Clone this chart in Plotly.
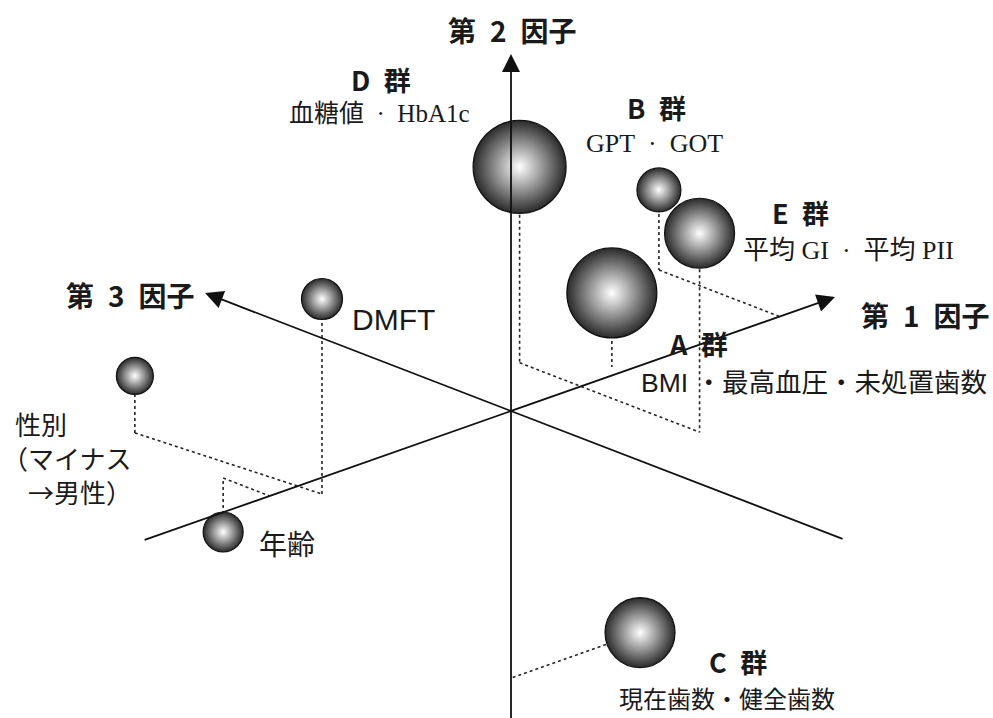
import plotly.graph_objects as go

# factor scores (第1因子, 第2因子, 第3因子)
items = ["D群", "B群", "E群", "A群", "C群", "DMFT", "性別", "年齢"]
f1 = [0.247, 0.949, 0.247, 0.397, 0.456, -0.747, -0.800, -0.853]
f2 = [0.653, 0.267, 0.663, 0.247, -0.890, 0.650, 0.190, -0.180]
f3 = [0.219, 0.431, -0.424, 0.041, 0.000, -0.080, 0.535, 0.166]

# extent of the three drawn axes (negative end, arrow end)
axis_names = ["第1因子", "第2因子", "第3因子"]
axis_lo = [-1.30, -1.03, -1.19]
axis_hi = [1.145, 1.19, 1.093]

# construction lines on the floor plane
floor_links = [("D群", "E群"), ("性別", "DMFT")]
to_axis1 = ["B群", "年齢"]
to_axis2 = ["C群"]

# oblique projection of the factor space onto the page
E1 = (0.9433, 0.3319)
E3 = (-0.9330, 0.3598)


def proj(a, b, c):
    return a * E1[0] + c * E3[0], a * E1[1] + b + c * E3[1]


W, H = 993, 718
OX, OY, S = 511, 411, 300.0

fig = go.Figure()

idx = {n: i for i, n in enumerate(items)}
segs = []
for i, n in enumerate(items):
    if n in to_axis2:
        segs.append(((f1[i], f2[i], f3[i]), (0, f2[i], 0)))
    else:
        segs.append(((f1[i], f2[i], f3[i]), (f1[i], 0, f3[i])))
for a, b in floor_links:
    i, j = idx[a], idx[b]
    segs.append(((f1[i], 0, f3[i]), (f1[j], 0, f3[j])))
for n in to_axis1:
    i = idx[n]
    segs.append(((f1[i], 0, f3[i]), (f1[i], 0, 0)))

for p, q in segs:
    x0, y0 = proj(*p)
    x1, y1 = proj(*q)
    fig.add_trace(go.Scatter(
        x=[x0, x1], y=[y0, y1], mode="lines",
        line=dict(color="#262626", width=1.6, dash="3px,3px"),
        hoverinfo="skip", showlegend=False
    ))

# sphere diameters in px, same order as items
diam = [93, 44, 70, 90, 70, 41, 37, 40]
for i, n in enumerate(items):
    x, y = proj(f1[i], f2[i], f3[i])
    fig.add_trace(go.Scatter(
        x=[x], y=[y], mode="markers", name=n,
        marker=dict(size=diam[i], color="#2a2a2a",
                    gradient=dict(type="radial", color="#ffffff"),
                    line=dict(color="#111111", width=1.2)),
        showlegend=False
    ))

# axes as arrows
for k in range(3):
    lo = [0, 0, 0]
    hi = [0, 0, 0]
    lo[k] = axis_lo[k]
    hi[k] = axis_hi[k]
    x0, y0 = proj(*lo)
    x1, y1 = proj(*hi)
    fig.add_annotation(
        x=x1, y=y1, ax=x0, ay=y0, xref="x", yref="y", axref="x", ayref="y",
        text="", showarrow=True, arrowhead=2, arrowsize=2.0, arrowwidth=1.8,
        arrowcolor="#111111", standoff=0
    )

BOLD = "Noto Sans CJK JP"
CJK = "Noto Sans CJK JP"
SANS = "Liberation Sans, Noto Sans CJK JP"
SERIF = "Liberation Serif, Noto Sans CJK JP"
sp = "\u2002"

labels = [
    (f"<b>第{sp}2{sp}因子</b>", 512, 30, 28, BOLD, "center"),
    (f"<b>D{sp}群</b>", 381, 80, 27, BOLD, "center"),
    (f"血糖値{sp}·{sp}HbA1c", 379, 113, 25, SERIF, "center"),
    (f"<b>B{sp}群</b>", 656, 108, 27, BOLD, "center"),
    (f"GPT{sp}·{sp}GOT", 654, 143, 26, SERIF, "center"),
    (f"<b>E{sp}群</b>", 800, 213, 27, BOLD, "center"),
    (f"平均 GI{sp}·{sp}平均 PII", 848, 250, 26, SERIF, "center"),
    (f"<b>第{sp}3{sp}因子</b>", 130, 295, 28, BOLD, "center"),
    ("DMFT", 393, 320, 30, SANS, "center"),
    (f"<b>第{sp}1{sp}因子</b>", 925, 315, 28, BOLD, "center"),
    (f"<b>A{sp}群</b>", 698, 343, 27, BOLD, "center"),
    ("BMI ・最高血圧・未処置歯数", 814, 383, 26.5, SANS, "center"),
    (f"{sp}性別<br>（マイナス<br>\u2003→男性）", 0, 457, 26, CJK, "left"),
    ("年齢", 287, 545, 28, SANS, "center"),
    (f"<b>C{sp}群</b>", 738, 661, 27, BOLD, "center"),
    ("現在歯数・健全歯数", 727, 700, 24, SERIF, "center"),
]
for text, px, py, size, fam, anchor in labels:
    fig.add_annotation(
        x=px / W, y=1 - py / H, xref="paper", yref="paper",
        text=text, showarrow=False, xanchor=anchor, yanchor="middle",
        align=anchor, font=dict(size=size, family=fam, color="#1a1a1a")
    )

fig.update_layout(
    width=W, height=H, margin=dict(l=0, r=0, t=0, b=0),
    paper_bgcolor="white", plot_bgcolor="white",
    xaxis=dict(range=[-OX / S, (W - OX) / S], visible=False, fixedrange=True),
    yaxis=dict(range=[-(H - OY) / S, OY / S], visible=False, fixedrange=True),
    showlegend=False
)

fig.write_html("out.html", config={"displayModeBar": False},
               post_script="document.body.style.margin='0px';document.body.style.overflow='hidden';")
